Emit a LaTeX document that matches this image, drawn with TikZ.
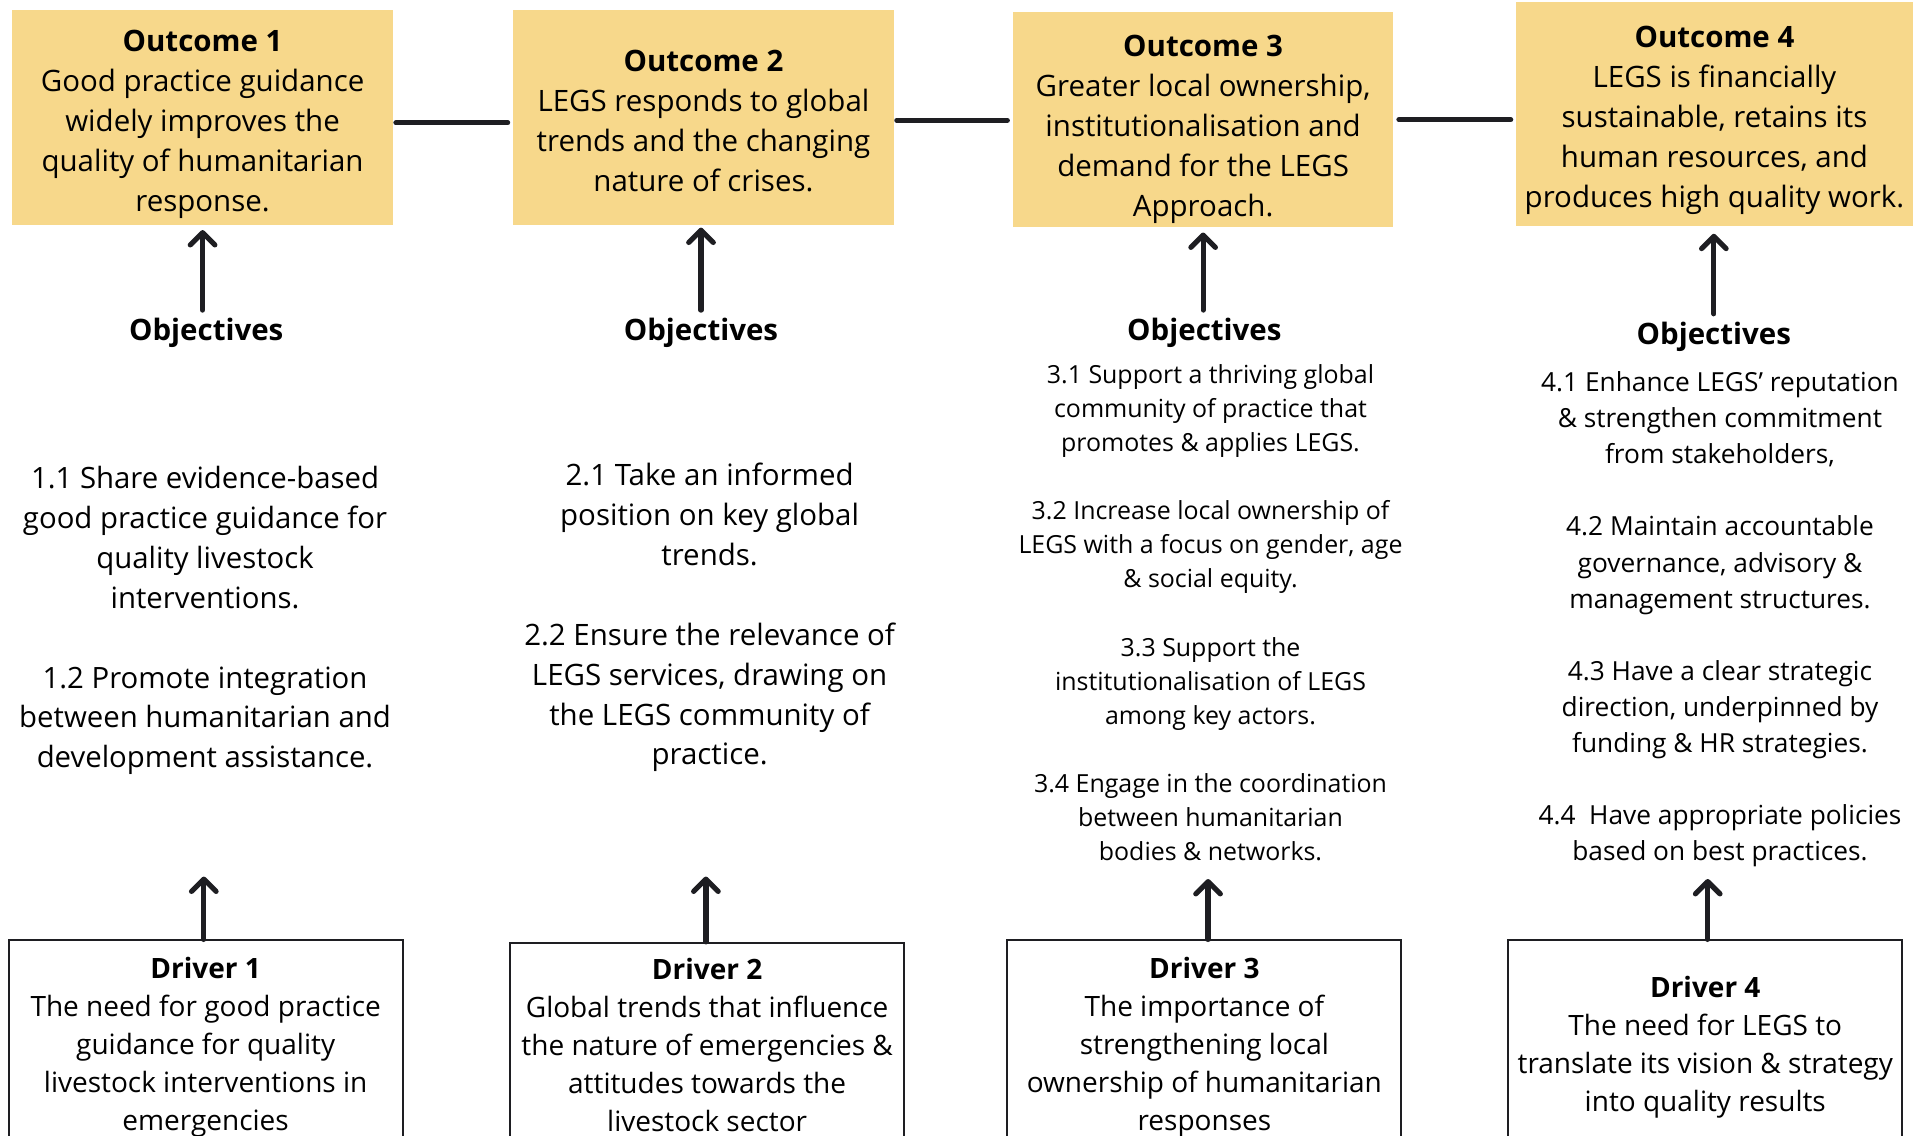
\documentclass[tikz,border=0pt]{standalone}
\usepackage{fontspec}
\setmainfont{Open Sans}
\usepackage{tikz}
\usetikzlibrary{arrows.meta}
\definecolor{outcomefill}{HTML}{F7D88B}
\definecolor{inkgray}{HTML}{1E1E22}
\tikzstyle{outcome}=[fill=outcomefill, inner sep=0pt, minimum width=155pt, minimum height=87.5pt]
\tikzstyle{outtext}=[align=center, inner sep=0pt, font=\fontsize{12}{16.3}\selectfont]
\tikzstyle{driver}=[draw=inkgray, line width=0.8pt, fill=white, align=center, inner sep=0pt, minimum width=160.5pt, minimum height=87pt, font=\fontsize{11.4}{15.5}\selectfont]
\tikzstyle{objhead}=[font=\fontsize{12}{14}\selectfont\bfseries, inner sep=1pt]
\tikzstyle{objtext}=[align=center, inner sep=0pt]
\tikzstyle{link}=[line width=2pt, line cap=round, draw=inkgray]
\tikzstyle{uparrow}=[line width=2.1pt, line cap=round, draw=inkgray, -{Straight Barb[round,length=5pt,width=10pt]}]

\begin{document}
\begin{tikzpicture}[x=0.5pt, y=-0.5pt]
	\useasboundingbox (0,0) rectangle (1568,925);
	\clip (0,0) rectangle (1568,925);
	% outcomes
	\node[outcome] (o1) at (165,95.5) {};
	\node[outcome] (o2) at (573,95.5) {};
	\node[outcome] (o3) at (980,97.5) {};
	\node[outcome, minimum width=161.5pt, minimum height=91pt] (o4) at (1396.5,93) {};
	\node[outtext] (o1t) at (165,101) {\textbf{Outcome 1}\\Good practice guidance\\widely improves the\\quality of humanitarian\\response.};
	\node[outtext] (o2t) at (573,98.5) {\textbf{Outcome 2}\\LEGS responds to global\\trends and the changing\\nature of crises.};
	\node[outtext] (o3t) at (980,105) {\textbf{Outcome 3}\\Greater local ownership,\\institutionalisation and\\demand for the LEGS\\Approach.};
	\node[outtext] (o4t) at (1396.5,98) {\textbf{Outcome 4}\\LEGS is financially\\sustainable, retains its\\human resources, and\\produces high quality work.};
	\draw[link, shorten <=1pt, shorten >=2pt] ([yshift=-2.25pt]o1.east) -- ([yshift=-2.25pt]o1.east -| o2.west);
	\draw[link, shorten <=1pt, shorten >=2pt] ([yshift=-1.25pt]o2.east) -- ([yshift=-1.25pt]o2.east -| o3.west);
	\draw[link, shorten <=2pt, shorten >=2pt] (o3.east) -- (o3.east -| o4.west);
	% objectives
	\node[objhead] (h1) at (168,271) {Objectives};
	\node[objhead] (h2) at (571,271) {Objectives};
	\node[objhead] (h3) at (981,271) {Objectives};
	\node[objhead] (h4) at (1396,274) {Objectives};
	\draw[uparrow, shorten <=2pt, shorten >=2pt] (o1.south |- h1.north) -- (o1.south);
	\draw[uparrow, shorten <=2pt, shorten >=1pt] (h2.north) -- (h2.north |- o2.south);
	\draw[uparrow, shorten <=2pt, shorten >=2pt] (h3.north -| o3.south) -- (o3.south);
	\draw[uparrow, shorten <=2pt, shorten >=3pt] (h4.north) -- (h4.north |- o4.south);
	\node[objtext, font=\fontsize{11.95}{16.25}\selectfont] (t1) at (167,505.5) {1.1 Share evidence-based\\good practice guidance for\\quality livestock\\interventions.\\[\baselineskip]1.2 Promote integration\\between humanitarian and\\development assistance.};
	\node[objtext, font=\fontsize{12}{16.25}\selectfont] (t2) at (578,503) {2.1 Take an informed\\position on key global\\trends.\\[\baselineskip]2.2 Ensure the relevance of\\LEGS services, drawing on\\the LEGS community of\\practice.};
	\node[objtext, font=\fontsize{10.15}{13.9}\selectfont] (t3) at (986,499) {3.1 Support a thriving global\\community of practice that\\promotes \& applies LEGS.\\[\baselineskip]3.2 Increase local ownership of\\LEGS with a focus on gender, age\\\& social equity.\\[\baselineskip]3.3 Support the\\institutionalisation of LEGS\\among key actors.\\[\baselineskip]3.4 Engage in the coordination\\between humanitarian\\bodies \& networks.};
	\node[objtext, font=\fontsize{10.7}{14.7}\selectfont] (t4) at (1401,504.5) {4.1 Enhance LEGS’ reputation\\\& strengthen commitment\\from stakeholders,\\[\baselineskip]4.2 Maintain accountable\\governance, advisory \&\\management structures.\\[\baselineskip]4.3 Have a clear strategic\\direction, underpinned by\\funding \& HR strategies.\\[\baselineskip]4.4\ \ Have appropriate policies\\based on best practices.};
	% drivers
	\node[driver] (d1) at (167.5,853) {\textbf{Driver 1}\\The need for good practice\\guidance for quality\\livestock interventions in\\emergencies};
	\node[driver, minimum height=83pt] (d2) at (576,851) {\textbf{Driver 2}\\Global trends that influence\\the nature of emergencies \&\\attitudes towards the\\livestock sector};
	\node[driver] (d3) at (981,853) {\textbf{Driver 3}\\The importance of\\strengthening local\\ownership of humanitarian\\responses};
	\node[driver] (d4) at (1389,853) {\textbf{Driver 4}\\The need for LEGS to\\translate its vision \& strategy\\into quality results};
	\coordinate (a1) at (166,714);
	\coordinate (a2) at (575,714);
	\coordinate (a3) at (984,716);
	\coordinate (a4) at (1391,716);
	\draw[uparrow] (a1 |- d1.north) -- (a1);
	\draw[uparrow] (a2 |- d2.north) -- (a2);
	\draw[uparrow] (a3 |- d3.north) -- (a3);
	\draw[uparrow] (a4 |- d4.north) -- (a4);
\end{tikzpicture}
\end{document}
